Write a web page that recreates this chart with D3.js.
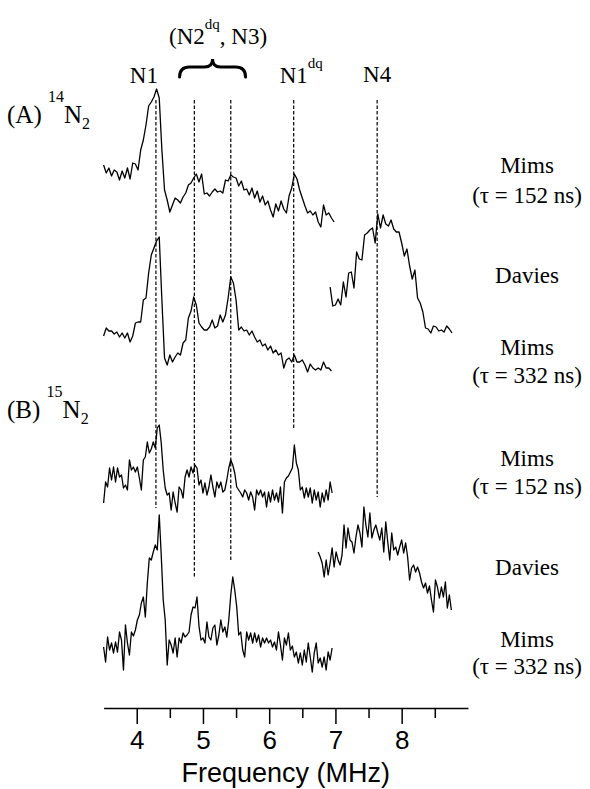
<!DOCTYPE html>
<html>
<head>
<meta charset="utf-8">
<title>ENDOR spectra</title>
<style type="text/css">
body { margin: 0; background: #fff; }
.trace { fill: none; stroke: #000; stroke-width: 1.3; stroke-linejoin: round; }
.guide { stroke: #000; stroke-width: 1.2; stroke-dasharray: 3.5,2; }
.axis path, .axis line { stroke: #000; stroke-width: 1.5; }
.axis text { font-family: "Liberation Sans", Arial, sans-serif; font-size: 26px; fill: #000; }
</style>
</head>
<body>
<div id="chart"></div>
<script src="https://d3js.org/d3.v7.min.js"></script>
<script>

// 14N2, Mims tau = 152 ns, from 3.50 MHz every 0.04 MHz
var mims152_14N = [35,27,32,24,30,28,20,29,22,32, 21,37,36,30,50,60,75,94,98,103,
  111,102,50,10,0,-12,-5,2,0,-3, 3,7,15,17,22,26,18,26,6,7,
  4,8,11,8,9,7,20,19,25,23, 22,14,19,10,11,5,12,2,9,-2,
  4,-5,-1,-10,-17,-4,-11,-1,-9,-13, 4,12,26,21,10,2,-6,-13,-11,-15,
  -12,-22,-27,-5,-15,-13,-18,-22];

// 14N2, Davies, from 6.92 MHz every 0.04 MHz
var davies_14N = [43,24,25,31,25,48,33,57,58,42, 78,71,70,95,97,100,102,87,116,102,
  115,106,104,110,101,98,98,87,74,81, 64,51,60,32,27,18,2,1,-3,4,
  3,-1,0,-2,4,1,-3];

// 14N2, Mims tau = 332 ns, from 3.50 MHz every 0.04 MHz
var mims332_14N = [34,42,39,39,36,38,33,37,32,37, 28,34,47,48,48,70,72,97,115,122,
  129,133,70,12,5,15,8,13,17,15, 27,30,52,59,73,65,47,43,40,40,
  43,50,42,44,55,48,55,72,93,87, 70,40,43,39,40,35,39,33,28,30,
  24,26,20,24,17,20,15,17,2,10, 12,8,15,8,8,10,5,-2,6,2,
  0,2,0,8,2,2,-1];

// 15N2, Mims tau = 152 ns, from 3.50 MHz every 0.03 MHz
var mims152_15N = [-3,18,13,32,20,33,18,32,23,25, 12,15,10,40,30,33,28,33,22,10,
  40,43,58,47,51,58,52,72,75,57, 30,12,5,7,-10,8,-3,-12,13,10,
  2,23,30,23,33,27,35,32,15,20, 7,17,5,13,25,13,3,18,12,18,
  8,10,20,32,40,35,27,13,10,7, 3,10,7,0,8,3,-10,10,5,10,
  3,8,-7,8,-2,10,0,7,-2,13, -13,18,22,24,28,32,55,37,30,10,
  13,2,12,3,12,-3,10,0,8,-7, 7,-2,10,0,18,7];

// 15N2, Davies, from 6.74 MHz every 0.03 MHz
var davies_15N = [58,53,47,33,50,35,47,62,43,58, 50,45,55,85,62,82,70,68,57,73,
  85,77,63,103,85,73,97,72,80,85, 77,70,82,58,88,68,50,77,60,63,
  55,63,70,57,67,53,30,42,45,38, 43,37,28,22,27,17,24,10,-2,30,
  23,12,23,13,28,2,15,0];

// 15N2, Mims tau = 332 ns, from 3.50 MHz every 0.03 MHz
var mims332_15N = [23,8,33,20,27,17,28,18,38,30, 0,45,27,15,38,34,40,50,55,67,
  73,53,87,112,110,118,125,120,155,115, 70,50,5,30,25,17,32,13,32,27,
  37,33,35,38,55,63,62,73,44,30, 32,27,48,33,30,42,45,25,35,50,
  38,43,33,50,75,93,80,63,35,38, 20,13,38,30,37,27,37,28,35,23,
  32,27,32,27,30,23,28,20,38,25, 10,32,25,37,20,24,13,18,7,17,
  5,20,8,27,13,-2,17,27,7,12, 3,13,0,18,10,22];

var startFreqs = [3.50, 6.92, 3.50, 3.50, 6.74, 3.50];
var freqSteps = [0.04, 0.04, 0.04, 0.03, 0.03, 0.03];
var stackOffsets = [500, 370, 330, 200, 90, 30];

// assigned lines
var guideNames = ["N1", "N2dq", "N3", "N1dq", "N4"];
var guideFreqs = [4.29, 4.87, 5.42, 6.37, 7.63];
var guideBottoms = [192, 122, 138, 270, 203];
var guideTop = 600;

var majorTicks = [4, 5, 6, 7, 8];
var minorTicks = [4.5, 5.5, 6.5, 7.5, 8.5];

var spectra = [mims152_14N, davies_14N, mims332_14N, mims152_15N, davies_15N, mims332_15N];

var width = 590, height = 789;
var serif = "'Liberation Serif', 'Times New Roman', Times, serif";

var x = d3.scaleLinear().domain([3.5, 9.0]).range([103.6, 467.9]);
var y = d3.scaleLinear().domain([0, 620]).range([700, 80]);

var svg = d3.select("#chart").append("svg")
    .attr("width", width)
    .attr("height", height);

// dashed guides
svg.selectAll(".guide")
    .data(guideFreqs)
  .enter().append("line")
    .attr("class", "guide")
    .attr("x1", function(d) { return x(d); })
    .attr("x2", function(d) { return x(d); })
    .attr("y1", y(guideTop))
    .attr("y2", function(d, i) { return y(guideBottoms[i]); });

// spectra
spectra.forEach(function(vals, k) {
  var line = d3.line()
      .x(function(d, i) { return x(startFreqs[k] + i * freqSteps[k]); })
      .y(function(d) { return y(d + stackOffsets[k]); });
  svg.append("path")
      .datum(vals)
      .attr("class", "trace")
      .attr("d", line);
});

// frequency axis
var axisY = 708;
svg.append("g")
    .attr("class", "axis")
    .attr("transform", "translate(0," + axisY + ")")
    .call(d3.axisBottom(x).tickValues(majorTicks).tickSize(16).tickSizeOuter(0).tickPadding(7)
      .tickFormat(d3.format("d")));
svg.append("g")
    .attr("class", "axis")
    .attr("transform", "translate(0," + axisY + ")")
    .call(d3.axisBottom(x).tickValues(minorTicks).tickSize(10).tickSizeOuter(0).tickFormat(""))
    .select(".domain").remove();

svg.append("text")
    .attr("x", (x(3.5) + x(9.0)) / 2)
    .attr("y", 782)
    .attr("text-anchor", "middle")
    .attr("font-family", "'Liberation Sans', Arial, sans-serif")
    .attr("font-size", 27)
    .text("Frequency (MHz)");

// serif label helper
function lbl(xp, yp, size) {
  return svg.append("text").attr("x", xp).attr("y", yp)
      .attr("font-family", serif)
      .attr("font-size", size)
      .attr("fill", "#000");
}

lbl(x(guideFreqs[0]) - 12, 83, 23).attr("text-anchor", "middle").text("N1");

var t = lbl(169, 44, 23);
t.append("tspan").text("(N2");
t.append("tspan").attr("dy", -15).attr("font-size", 15).text("dq");
t.append("tspan").attr("dy", 15).text(", N3)");

t = lbl(x(guideFreqs[3]) - 14, 83, 23);
t.append("tspan").text("N1");
t.append("tspan").attr("dy", -15).attr("font-size", 15).text("dq");

lbl(x(guideFreqs[4]), 82, 23).attr("text-anchor", "middle").text("N4");

// brace over N2dq / N3
var bc = (x(guideFreqs[1]) + x(guideFreqs[2])) / 2, bw = 33;
svg.append("path")
    .attr("d", "M" + (bc - bw) + ",77 Q" + (bc - bw) + ",67 " + (bc - bw + 10) + ",67 L" + (bc - 8) + ",67 Q" + bc + ",67 " + bc + ",59 Q" + bc + ",67 " + (bc + 8) + ",67 L" + (bc + bw - 10) + ",67 Q" + (bc + bw) + ",67 " + (bc + bw) + ",77")
    .attr("fill", "none")
    .attr("stroke", "#000")
    .attr("stroke-width", 3)
    .attr("stroke-linecap", "round");

// isotope panels
function panel(letter, mass, base) {
  var p = lbl(7, base, 25);
  p.append("tspan").text("(" + letter + ") ");
  p.append("tspan").attr("dy", -21).attr("font-size", 16).text(mass);
  p.append("tspan").attr("dy", 21).text("N");
  p.append("tspan").attr("dy", 6).attr("font-size", 16).text("2");
}
panel("A", "14", 123);
panel("B", "15", 418);

// experiment labels on the right
var rightLabels = [
  ["Mims", 173], ["(\u03c4 = 152 ns)", 203], ["Davies", 283], ["Mims", 355], ["(\u03c4 = 332 ns)", 383],
  ["Mims", 466], ["(\u03c4 = 152 ns)", 494], ["Davies", 575], ["Mims", 647], ["(\u03c4 = 332 ns)", 674]
];
rightLabels.forEach(function(r) {
  lbl(527, r[1], 23).attr("text-anchor", "middle").text(r[0]);
});

</script>
</body>
</html>
